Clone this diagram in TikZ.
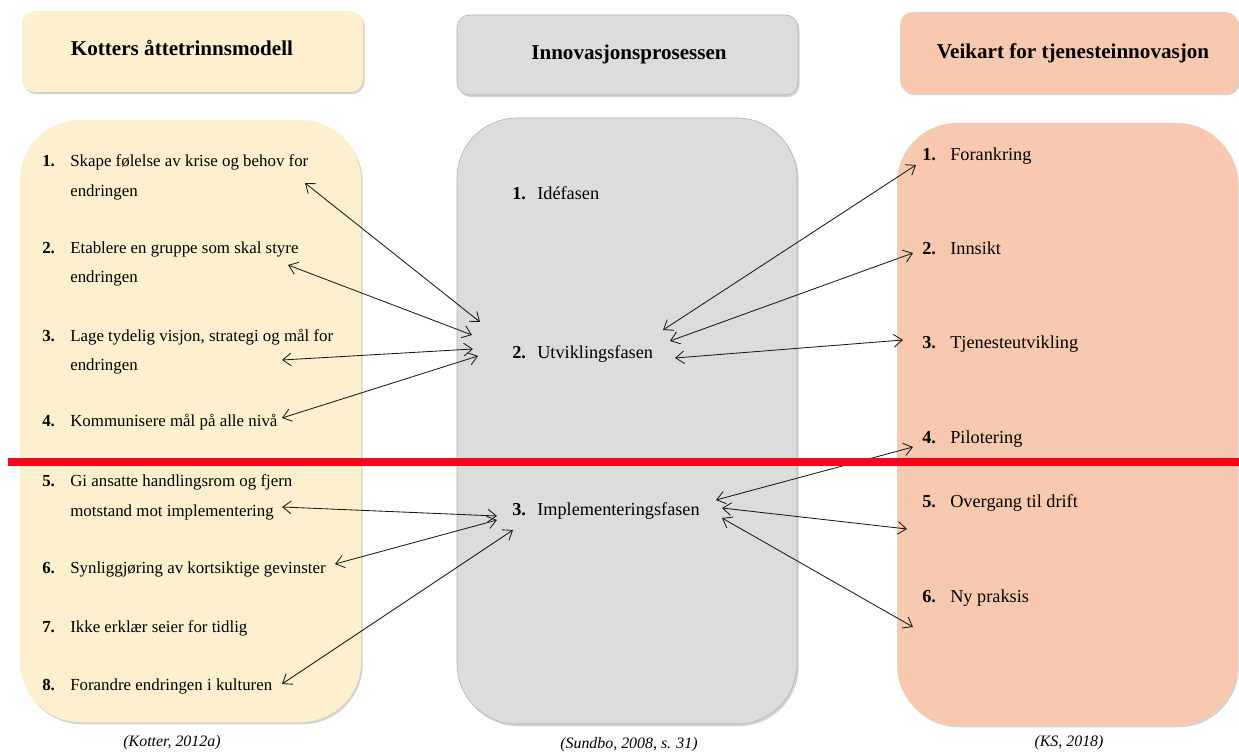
\documentclass[tikz,border=0pt]{standalone}
\usepackage{fontspec}
\setmainfont{Liberation Serif}
\usetikzlibrary{arrows.meta,shadows}
\definecolor{kotterfill}{HTML}{FEF0CF}
\definecolor{innofill}{HTML}{DCDCDC}
\definecolor{innoline}{HTML}{A3B3CB}
\definecolor{ksfill}{HTML}{F8C9AE}
\definecolor{redline}{HTML}{FF0019}
\tikzset{
  boxshadow/.style={drop shadow={shadow xshift=1.2pt,shadow yshift=-1.6pt,opacity=.35}},
  headbox/.style={rounded corners=9pt,boxshadow},
  bigbox/.style={rounded corners=1.5cm,boxshadow},
  headtxt/.style={font=\fontsize{15pt}{18pt}\selectfont\bfseries},
  num/.style={anchor=base west,inner sep=0pt,font=\fontsize{12pt}{14pt}\selectfont\bfseries},
  txt/.style={anchor=base west,inner sep=0pt,font=\fontsize{12pt}{14pt}\selectfont},
  bignum/.style={num,font=\fontsize{13pt}{15pt}\selectfont\bfseries},
  bigtxt/.style={txt,font=\fontsize{13pt}{15pt}\selectfont},
  src/.style={font=\fontsize{11.3pt}{13pt}\selectfont\itshape},
  link/.style={{Straight Barb[length=6pt,width=9pt]}-{Straight Barb[length=6pt,width=9pt]},line width=.6pt,black!90}
}
\begin{document}
\begin{tikzpicture}[x=0.025cm,y=-0.025cm]
\useasboundingbox (0,0) rectangle (1239,754);
% headers
\draw[headbox,fill=kotterfill,draw=none] (22,11) rectangle (363,92);
\draw[headbox,fill=innofill,draw=innoline] (457,15) rectangle (798,95);
\draw[headbox,fill=ksfill,draw=none] (900,12) rectangle (1238,93);
\node[headtxt] (hk) at (182,48) {Kotters åttetrinnsmodell};
\node[headtxt] (hi) at (629,54) {Innovasjonsprosessen};
\node[headtxt] (hs) at (1073,53) {Veikart for tjenesteinnovasjon};
% columns
\draw[bigbox,fill=kotterfill,draw=none] (20,120) rectangle (361,722);
\draw[bigbox,fill=innofill,draw=innoline] (457,118) rectangle (797,724);
\draw[bigbox,fill=ksfill,draw=none] (897,123) rectangle (1237,725);
% sources
\node[src] (sk) at (172,743) {(Kotter, 2012a)};
\node[src] (si) at (629,745) {(Sundbo, 2008, s. 31)};
\node[src] (ss) at (1069,743) {(KS, 2018)};

% Kotter
\node[num] (n1) at (42,167) {1.};
\node[txt] (k1) at (70,167) {Skape følelse av krise og behov for};
\node[txt] (k1b) at (70,197) {endringen};
\node[num] (n2) at (42,254) {2.};
\node[txt] (k2) at (70,254) {Etablere en gruppe som skal styre};
\node[txt] (k2b) at (70,283) {endringen};
\node[num] (n3) at (42,342) {3.};
\node[txt] (k3) at (70,342) {Lage tydelig visjon, strategi og mål for};
\node[txt] (k3b) at (70,371) {endringen};
\node[num] (n4) at (42,427) {4.};
\node[txt] (k4) at (70,427) {Kommunisere mål på alle nivå};
\node[num] (n5) at (42,487) {5.};
\node[txt] (k5) at (70,487) {Gi ansatte handlingsrom og fjern};
\node[txt] (k5b) at (70,517) {motstand mot implementering};
\node[num] (n6) at (42,573) {6.};
\node[txt] (k6) at (70,573) {Synliggjøring av kortsiktige gevinster};
\node[num] (n7) at (42,632) {7.};
\node[txt] (k7) at (70,632) {Ikke erklær seier for tidlig};
\node[num] (n8) at (42,690) {8.};
\node[txt] (k8) at (70,690) {Forandre endringen i kulturen};

% Sundbo
\node[bignum] (m1) at (512,200) {1.};
\node[bigtxt] (i1) at (537,200) {Idéfasen};
\node[bignum] (m2) at (512,359) {2.};
\node[bigtxt] (i2) at (537,359) {Utviklingsfasen};
\node[bignum] (m3) at (512,516) {3.};
\node[bigtxt] (i3) at (537,516) {Implementeringsfasen};

% KS
\node[bignum] (r1) at (922,161) {1.};
\node[bigtxt] (s1) at (950,161) {Forankring};
\node[bignum] (r2) at (922,255) {2.};
\node[bigtxt] (s2) at (950,255) {Innsikt};
\node[bignum] (r3) at (922,349) {3.};
\node[bigtxt] (s3) at (950,349) {Tjenesteutvikling};
\node[bignum] (r4) at (922,444) {4.};
\node[bigtxt] (s4) at (950,444) {Pilotering};
\node[bignum] (r5) at (922,507) {5.};
\node[bigtxt] (s5) at (950,507) {Overgang til drift};
\node[bignum] (r6) at (922,603) {6.};
\node[bigtxt] (s6) at (950,603) {Ny praksis};

% arrow ends
\coordinate (a1) at (305,183);  \coordinate (u1) at (480,322);
\coordinate (a2) at (288,265);  \coordinate (u2) at (472,335);
\coordinate (a3) at (282,360);  \coordinate (u3) at (473,349);
\coordinate (a4) at (282,418);  \coordinate (u4) at (478,356);
\coordinate (a5) at (282,507);  \coordinate (p5) at (497,516);
\coordinate (a6) at (335,564);  \coordinate (p6) at (497,520);
\coordinate (a8) at (282,684);  \coordinate (p8) at (513,530);
\coordinate (ul1) at (663,330); \coordinate (b1) at (916,165);
\coordinate (ul2) at (670,341); \coordinate (b2) at (913,253);
\coordinate (ul3) at (675,358); \coordinate (b3) at (903,340);
\coordinate (pl4) at (716,500); \coordinate (b4) at (913,447);
\coordinate (pl5) at (722,508); \coordinate (b5) at (907,529);
\coordinate (pl6) at (722,518); \coordinate (b6) at (913,627);

\draw[link] (a1) -- (u1);
\draw[link] (a2) -- (u2);
\draw[link] (a3) -- (u3);
\draw[link] (a4) -- (u4);
\draw[link] (a5) -- (p5);
\draw[link] (a6) -- (p6);
\draw[link] (a8) -- (p8);
\draw[link] (ul1) -- (b1);
\draw[link] (ul2) -- (b2);
\draw[link] (ul3) -- (b3);
\draw[link] (pl4) -- (b4);
\draw[link] (pl5) -- (b5);
\draw[link] (pl6) -- (b6);

% cut
\draw[redline,line width=0.2cm] (8,462) -- (1239,462);
\end{tikzpicture}
\end{document}
